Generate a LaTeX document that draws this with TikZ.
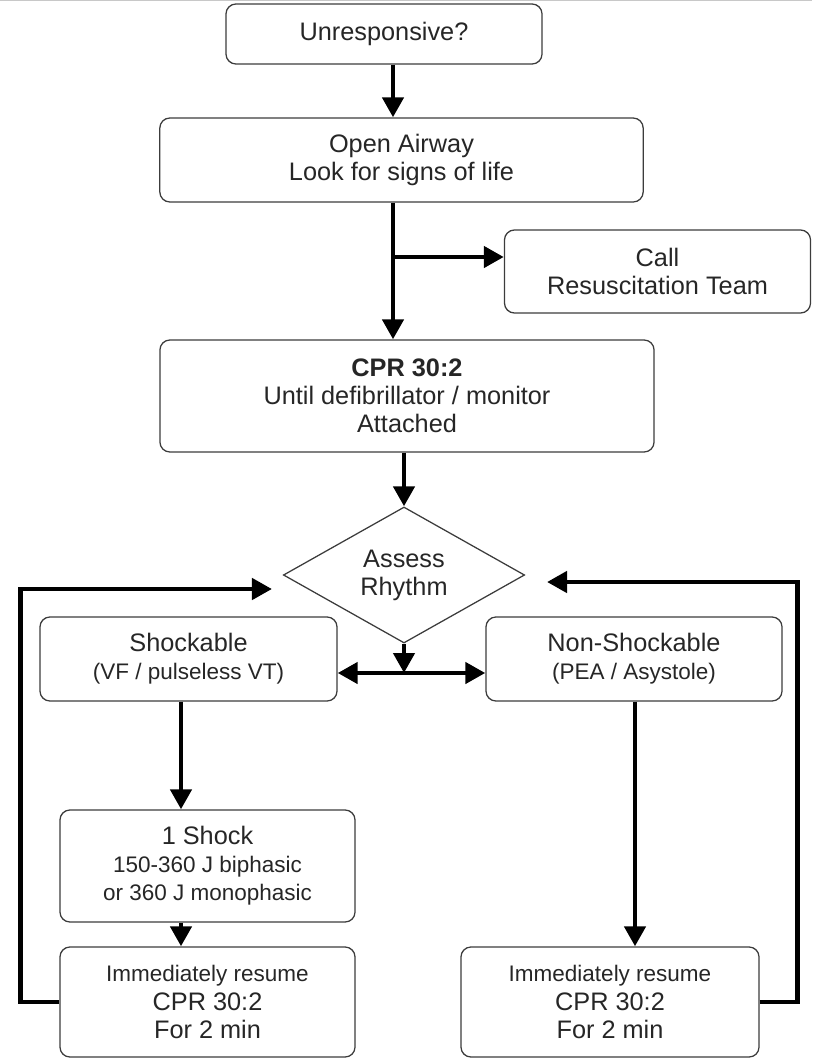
\documentclass[tikz,border=0pt]{standalone}
\usepackage{fontspec}
\setmainfont{Liberation Sans}
\usetikzlibrary{arrows.meta,shapes.geometric}
\definecolor{ALSLine}{HTML}{3C3C3C}
\definecolor{ALSText}{HTML}{262626}
\definecolor{ALSEdge}{HTML}{C8C8C8}
\newcommand{\smalltxt}{\fontsize{16}{17}\selectfont}

\begin{document}
\begin{tikzpicture}[x=0.025cm,y=-0.025cm,
  >={Triangle[length=0.5cm,width=0.52cm]},
  stepbox/.style={draw=ALSLine,line width=0.9pt,rounded corners=0.25cm,align=center,
    text=ALSText,inner sep=0pt,font=\fontsize{18}{20}\selectfont},
  flow/.style={line width=3.5pt,->}]
\path[use as bounding box] (0,0) rectangle (812,1059);
\draw[ALSEdge,line width=1pt] (0,0.5) -- (812,0.5);
\node[stepbox,minimum width=7.9cm,minimum height=1.5cm] (unresp) at (384,34) {Unresponsive?};
\node[stepbox,minimum width=12.08cm,minimum height=2.1cm] (airway) at (401.5,160) {Open Airway\\Look for signs of life};
\node[stepbox,minimum width=7.65cm,minimum height=2.075cm] (call) at (657.5,271.5) {Call\\Resuscitation Team};
\node[stepbox,minimum width=12.35cm,minimum height=2.8cm] (cpr) at (407,396) {\textbf{CPR 30:2}\\Until defibrillator / monitor\\Attached};
\node[diamond,draw=ALSLine,line width=0.9pt,aspect=1.77,inner sep=0pt,minimum width=6.03cm,minimum height=3.4cm,
  align=center,text=ALSText,font=\fontsize{18}{20}\selectfont] (assess) at (404,575) {Assess\\Rhythm};
\node[stepbox,minimum width=7.425cm,minimum height=2.1cm] (shock) at (188.5,659) {Shockable\\{\smalltxt (VF / pulseless VT)}};
\node[stepbox,minimum width=7.4cm,minimum height=2.1cm] (nonshock) at (634,659) {Non-Shockable\\{\smalltxt (PEA / Asystole)}};
\node[stepbox,minimum width=7.375cm,minimum height=2.8cm] (oneshock) at (207.5,866) {1 Shock\\{\smalltxt 150-360 J biphasic}\\{\smalltxt or 360 J monophasic}};
\node[stepbox,minimum width=7.375cm,minimum height=2.75cm] (resumeL) at (207.5,1002) {{\smalltxt Immediately resume}\\CPR 30:2\\For 2 min};
\node[stepbox,minimum width=7.45cm,minimum height=2.75cm] (resumeR) at (610,1002) {{\smalltxt Immediately resume}\\CPR 30:2\\For 2 min};
\coordinate (trunk) at (393,257);
\coordinate (split) at (404,673);
\coordinate (colL) at (181,0);
\coordinate (colR) at (635,0);
\coordinate (backL) at (272,589);
\coordinate (backR) at (547,582);
\draw[flow] (unresp.south -| trunk) -- (airway.north -| trunk);
\draw[flow] (airway.south -| trunk) -- (cpr.north -| trunk);
\draw[flow] (trunk) -- (trunk -| call.west);
\draw[flow] (cpr.south -| assess.north) -- (assess.north);
\draw[flow] (assess.south) -- (split);
\draw[line width=3.5pt,<->] (shock.east |- split) -- (nonshock.west |- split);
\draw[flow] (shock.south -| colL) -- (oneshock.north -| colL);
\draw[flow] (oneshock.south -| colL) -- (resumeL.north -| colL);
\draw[flow] (nonshock.south -| colR) -- (resumeR.north -| colR);
\draw[flow] (resumeL.west) -- ++(-39,0) |- (backL);
\draw[flow] (resumeR.east) -- ++(38,0) |- (backR);
\end{tikzpicture}
\end{document}
